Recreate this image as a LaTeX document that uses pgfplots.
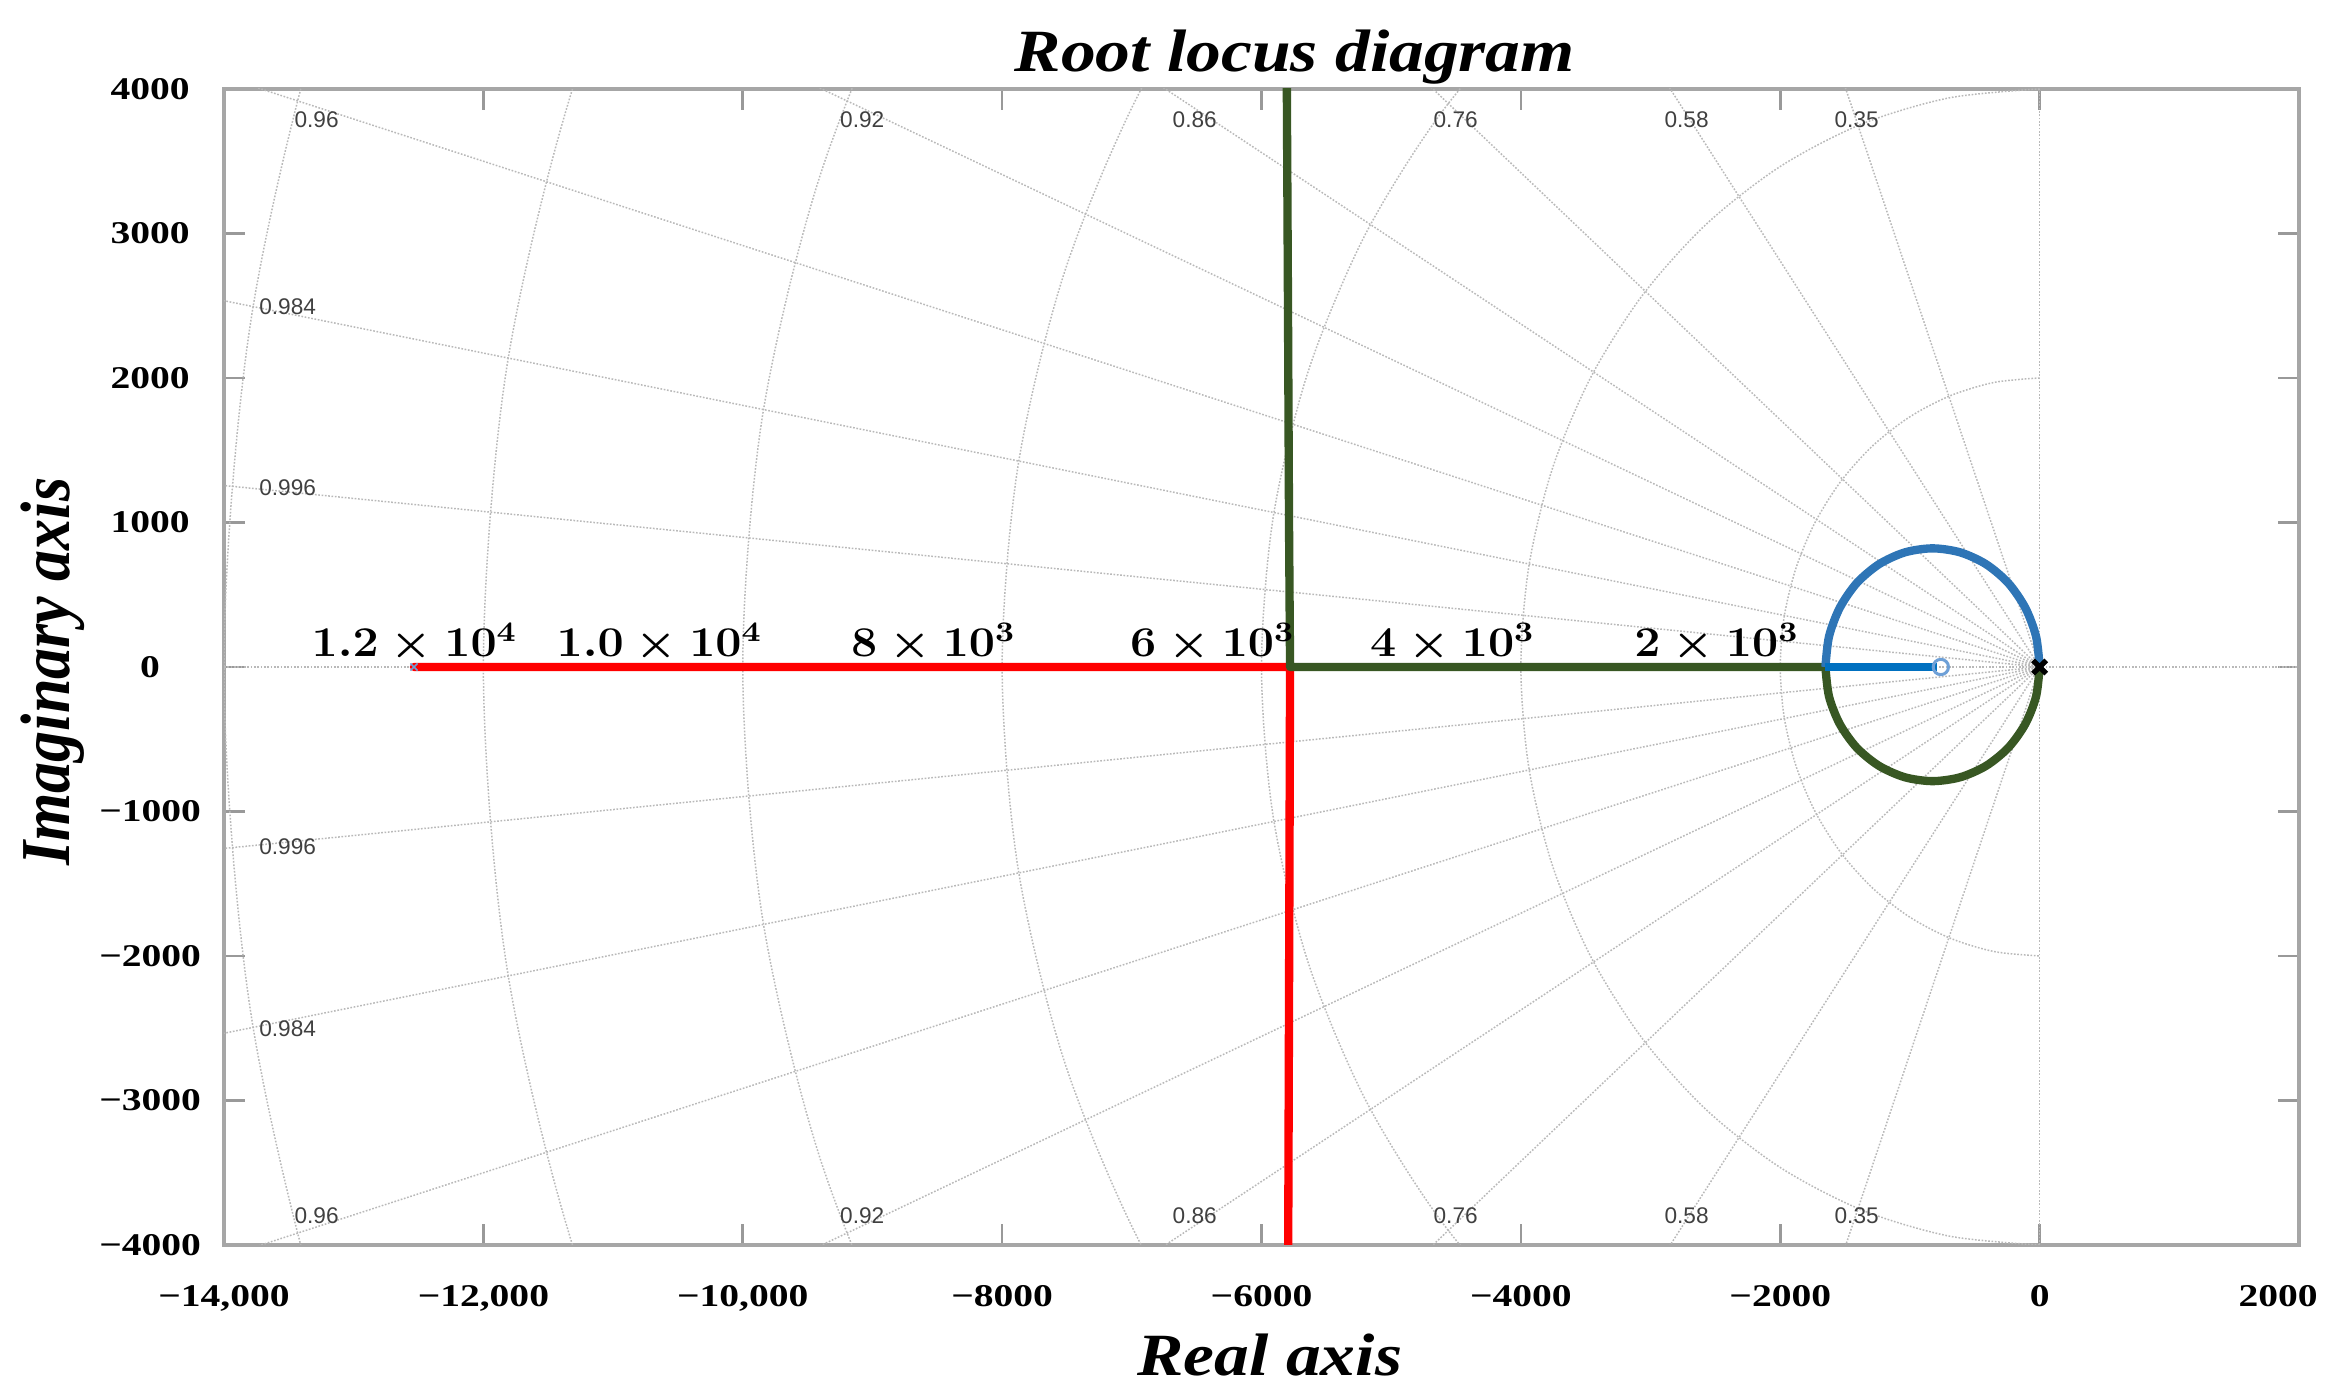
\documentclass[border=0pt]{standalone}
\usepackage[no-math]{fontspec}
\setmainfont{Liberation Serif}[FakeStretch=1.16]
\newfontfamily\tickfont{Liberation Serif}[FakeStretch=1.25]
\newfontfamily\ylabfont{Liberation Serif}
\newfontfamily\gridfont{Liberation Sans}
\usepackage{pgfplots}
\pgfplotsset{compat=1.18}
\definecolor{locblue}{RGB}{46,117,182}
\definecolor{locblue2}{RGB}{0,112,192}
\definecolor{locgreen}{RGB}{56,87,35}
\definecolor{locred}{RGB}{255,0,0}
\definecolor{zeroblue}{RGB}{110,160,215}
\definecolor{gridc}{RGB}{185,185,185}
\newcommand{\wnlab}[1]{\scalebox{1.165}[1.06]{\fontsize{12}{14}\selectfont\boldmath$#1$}}
\tikzset{
  gridline/.style={gridc, line width=0.45pt, dash pattern=on 0.5pt off 0.5pt},
  zlab/.style={font=\gridfont\fontsize{6.8}{7.5}\selectfont, text=black!75, inner sep=0pt},
  wlab/.style={anchor=base, inner sep=0pt},
}
\begin{document}
\begin{tikzpicture}
\begin{axis}[
  at={(0pt,0pt)}, anchor=south west,
  scale only axis, width=623.12pt, height=347.15pt,
  xmin=-14000, xmax=2000, ymin=-4000, ymax=4000,
  xtick={-14000,-12000,-10000,-8000,-6000,-4000,-2000,0,2000},
  ytick={-4000,-3000,-2000,-1000,0,1000,2000,3000,4000},
  xticklabels={{−14,000},{−12,000},{−10,000},−8000,−6000,−4000,−2000,0,\hspace*{-12.6pt}2000},
  yticklabels={−4000,−3000,−2000,−1000,0,1000,2000,3000,4000},
  tick align=inside,
  major tick length=6.3pt,
  every tick/.style={draw=black!40, line width=0.8pt},
  axis line style={draw=black!35, line width=1pt},
  ticklabel style={font=\tickfont\fontsize{9.5}{11}\selectfont\bfseries},
  xticklabel style={anchor=base, yshift=-18.6pt},
  yticklabel style={anchor=center, xshift=-22.2pt},
  every axis title shift=0pt,
  title={Root locus diagram},
  title style={font=\fontsize{18}{20}\selectfont\bfseries\itshape, at={(0.516,1.01498)}, anchor=base, inner sep=0pt},
  xlabel={Real axis},
  xlabel style={font=\fontsize{18}{20}\selectfont\bfseries\itshape, at={(0.504,-0.11322)}, anchor=base, inner sep=0pt},
  ylabel={\scalebox{1.035}[1.17]{Imaginary axis}},
  ylabel style={font=\ylabfont\fontsize{18}{20}\selectfont\bfseries\itshape, at={(-0.07464,0.496)}, anchor=base, inner sep=0pt},
]
% ---- s-plane grid: constant damping lines
\addplot[gridline] coordinates {(0,0) (-7000,18735)};
\addplot[gridline] coordinates {(0,0) (-7000,-18735)};
\addplot[gridline] coordinates {(0,0) (-11600,16292)};
\addplot[gridline] coordinates {(0,0) (-11600,-16292)};
\addplot[gridline] coordinates {(0,0) (-15200,12998)};
\addplot[gridline] coordinates {(0,0) (-15200,-12998)};
\addplot[gridline] coordinates {(0,0) (-17200,10206)};
\addplot[gridline] coordinates {(0,0) (-17200,-10206)};
\addplot[gridline] coordinates {(0,0) (-18400,7838)};
\addplot[gridline] coordinates {(0,0) (-18400,-7838)};
\addplot[gridline] coordinates {(0,0) (-19200,5600)};
\addplot[gridline] coordinates {(0,0) (-19200,-5600)};
\addplot[gridline] coordinates {(0,0) (-19680,3563)};
\addplot[gridline] coordinates {(0,0) (-19680,-3563)};
\addplot[gridline] coordinates {(0,0) (-19920,1787)};
\addplot[gridline] coordinates {(0,0) (-19920,-1787)};
\addplot[gridline] coordinates {(-14000,0) (2000,0)};
\addplot[gridline] coordinates {(0,-4000) (0,4000)};
% ---- constant natural frequency arcs
\addplot[gridline, smooth] coordinates {(0,2000) (-347,1970) (-684,1879) (-1000,1732) (-1286,1532) (-1532,1286) (-1732,1000) (-1879,684) (-1970,347) (-2000,0) (-1970,-347) (-1879,-684) (-1732,-1000) (-1532,-1286) (-1286,-1532) (-1000,-1732) (-684,-1879) (-347,-1970) (0,-2000)};
\addplot[gridline, smooth] coordinates {(0,4000) (-695,3939) (-1368,3759) (-2000,3464) (-2571,3064) (-3064,2571) (-3464,2000) (-3759,1368) (-3939,695) (-4000,0) (-3939,-695) (-3759,-1368) (-3464,-2000) (-3064,-2571) (-2571,-3064) (-2000,-3464) (-1368,-3759) (-695,-3939) (0,-4000)};
\addplot[gridline, smooth] coordinates {(0,6000) (-1042,5909) (-2052,5638) (-3000,5196) (-3857,4596) (-4596,3857) (-5196,3000) (-5638,2052) (-5909,1042) (-6000,0) (-5909,-1042) (-5638,-2052) (-5196,-3000) (-4596,-3857) (-3857,-4596) (-3000,-5196) (-2052,-5638) (-1042,-5909) (0,-6000)};
\addplot[gridline, smooth] coordinates {(0,8000) (-1389,7878) (-2736,7518) (-4000,6928) (-5142,6128) (-6128,5142) (-6928,4000) (-7518,2736) (-7878,1389) (-8000,0) (-7878,-1389) (-7518,-2736) (-6928,-4000) (-6128,-5142) (-5142,-6128) (-4000,-6928) (-2736,-7518) (-1389,-7878) (0,-8000)};
\addplot[gridline, smooth] coordinates {(0,10000) (-1737,9848) (-3420,9397) (-5000,8660) (-6428,7660) (-7660,6428) (-8660,5000) (-9397,3420) (-9848,1737) (-10000,0) (-9848,-1737) (-9397,-3420) (-8660,-5000) (-7660,-6428) (-6428,-7660) (-5000,-8660) (-3420,-9397) (-1737,-9848) (0,-10000)};
\addplot[gridline, smooth] coordinates {(0,12000) (-2084,11818) (-4104,11276) (-6000,10392) (-7713,9192) (-9192,7713) (-10392,6000) (-11276,4104) (-11818,2084) (-12000,0) (-11818,-2084) (-11276,-4104) (-10392,-6000) (-9192,-7713) (-7713,-9192) (-6000,-10392) (-4104,-11276) (-2084,-11818) (0,-12000)};
\addplot[gridline, smooth] coordinates {(0,14000) (-2431,13787) (-4788,13156) (-7000,12124) (-8999,10725) (-10725,8999) (-12124,7000) (-13156,4788) (-13787,2431) (-14000,0) (-13787,-2431) (-13156,-4788) (-12124,-7000) (-10725,-8999) (-8999,-10725) (-7000,-12124) (-4788,-13156) (-2431,-13787) (0,-14000)};
% ---- damping labels
\node[zlab] at (axis cs:-13286,3785) {0.96};
\node[zlab] at (axis cs:-9079,3785) {0.92};
\node[zlab] at (axis cs:-6515,3785) {0.86};
\node[zlab] at (axis cs:-4503,3785) {0.76};
\node[zlab] at (axis cs:-2722,3785) {0.58};
\node[zlab] at (axis cs:-1411,3785) {0.35};
\node[zlab] at (axis cs:-13286,-3796) {0.96};
\node[zlab] at (axis cs:-9079,-3796) {0.92};
\node[zlab] at (axis cs:-6515,-3796) {0.86};
\node[zlab] at (axis cs:-4503,-3796) {0.76};
\node[zlab] at (axis cs:-2722,-3796) {0.58};
\node[zlab] at (axis cs:-1411,-3796) {0.35};
\node[zlab] at (axis cs:-13509,2491) {0.984};
\node[zlab] at (axis cs:-13509,1239) {0.996};
\node[zlab] at (axis cs:-13509,-1246) {0.996};
\node[zlab] at (axis cs:-13509,-2505) {0.984};
% ---- root locus branches
\addplot[locred, line width=2.5pt, line cap=round, line join=round] coordinates {(-12535,0) (-5780,0) (-5785,-1500) (-5795,-4200)};
\addplot[locgreen, line width=2.5pt, line join=round] coordinates {(-1652,0) (-5780,0) (-5788,1000) (-5796,2500) (-5806,4200)};
\addplot[locgreen, line width=2.5pt, smooth] coordinates {(0,0) (-28,-205) (-111,-395) (-242,-559) (-413,-684) (-612,-763) (-826,-790) (-1040,-763) (-1239,-684) (-1410,-559) (-1541,-395) (-1624,-205) (-1652,0)};
\addplot[locblue, line width=2.5pt, smooth] coordinates {(0,0) (-28,212) (-111,410) (-242,581) (-413,711) (-612,793) (-826,821) (-1040,793) (-1239,711) (-1410,581) (-1541,410) (-1624,212) (-1652,0)};
\addplot[locblue2, line width=2.5pt] coordinates {(-1652,0) (-790,0)};
% ---- poles and zero
\addplot[only marks, mark=x, mark size=2.8pt, line width=1.6pt, black] coordinates {(0,0)};
\addplot[only marks, mark=o, mark size=2.3pt, line width=0.9pt, zeroblue] coordinates {(-762,0)};
\addplot[only marks, mark=x, mark size=1.5pt, line width=0.5pt, zeroblue] coordinates {(-12535,0)};
% ---- gain labels
\node[wlab] at (axis cs:-12530,71) {\wnlab{1.2\times10^{4}}};
\node[wlab] at (axis cs:-10641,71) {\wnlab{1.0\times10^{4}}};
\node[wlab] at (axis cs:-8528,71) {\wnlab{8\times10^{3}}};
\node[wlab] at (axis cs:-6377,71) {\wnlab{6\times10^{3}}};
\node[wlab] at (axis cs:-4526,71) {\wnlab{4\times10^{3}}};
\node[wlab] at (axis cs:-2490,71) {\wnlab{2\times10^{3}}};
\end{axis}
\pgfresetboundingbox
\path[use as bounding box] (-67.27pt,-45.65pt) rectangle (632.73pt,373.88pt);
\end{tikzpicture}
\end{document}
